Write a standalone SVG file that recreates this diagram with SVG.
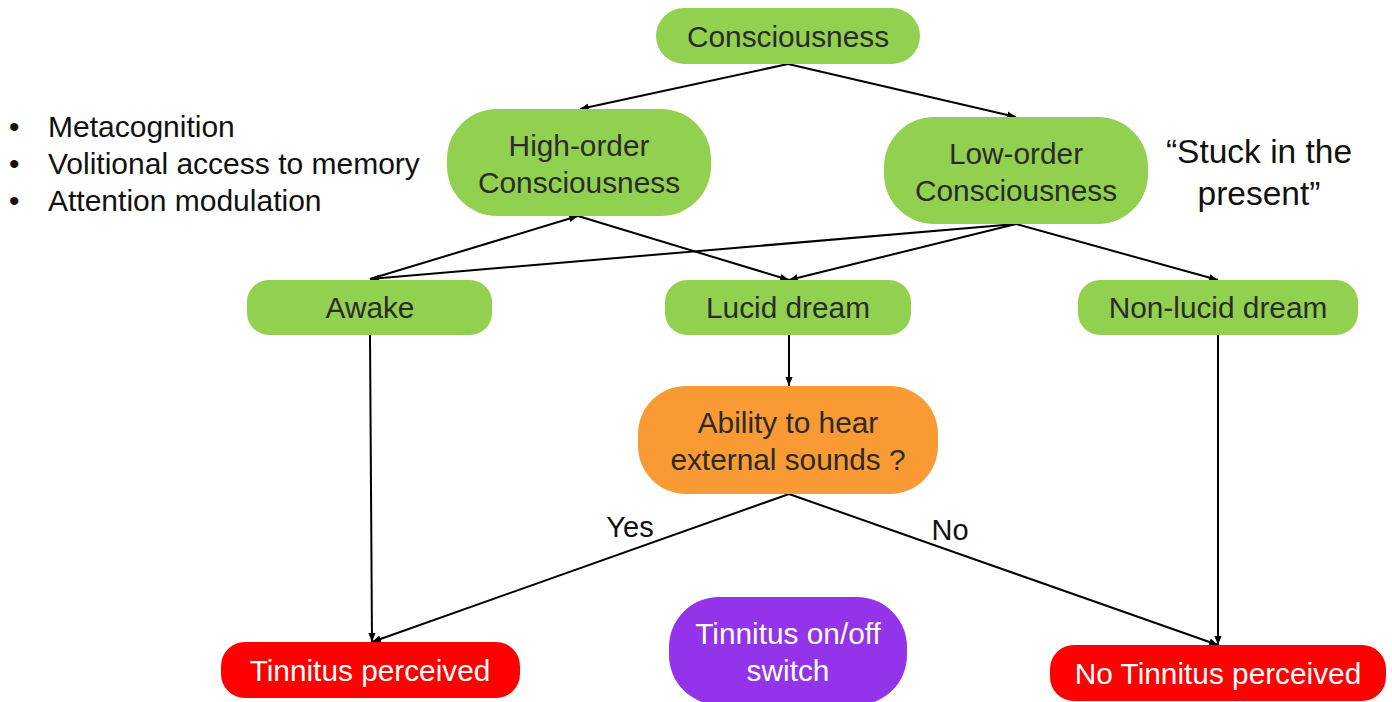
<svg xmlns="http://www.w3.org/2000/svg" width="1392" height="702" viewBox="0 0 1392 702">
<defs>
<marker id="ah" viewBox="0 0 10 10" refX="10" refY="5" markerWidth="9" markerHeight="9" markerUnits="userSpaceOnUse" orient="auto">
<path d="M0,1 L10,5 L0,9 z" fill="#000"/>
</marker>
<style>
.g{fill:#92D050}
.o{fill:#F99A34}
.r{fill:#FF0000}
.p{fill:#9333EA}
.t{font-family:"Liberation Sans",Arial,sans-serif;font-size:29.8px;fill:#2b2b2b;text-anchor:middle}
.w{font-family:"Liberation Sans",Arial,sans-serif;font-size:29.8px;fill:#ffffff;text-anchor:middle}
.k{font-family:"Liberation Sans",Arial,sans-serif;fill:#111;}
.c{stroke:#000;stroke-width:2;fill:none;marker-end:url(#ah)}
</style>
</defs>
<rect width="1392" height="702" fill="#fff"/>

<g id="connectors">
<line class="c" x1="788" y1="64" x2="580" y2="109"/>
<line class="c" x1="788" y1="64" x2="1016" y2="117"/>
<line class="c" x1="370" y1="279" x2="578" y2="216"/>
<line class="c" x1="1016" y1="224" x2="370" y2="279"/>
<line class="c" x1="578" y1="216" x2="789" y2="280"/>
<line class="c" x1="1016" y1="224" x2="789" y2="280"/>
<line class="c" x1="1016" y1="224" x2="1218" y2="280"/>
<line class="c" x1="789" y1="335" x2="789" y2="386"/>
<line class="c" x1="370" y1="335" x2="372" y2="642"/>
<line class="c" x1="1218" y1="335" x2="1218" y2="645"/>
<line class="c" x1="789" y1="494" x2="372" y2="642"/>
<line class="c" x1="789" y1="494" x2="1218" y2="645"/>
<text class="k" x="630" y="537" font-size="29" text-anchor="middle">Yes</text>
<text class="k" x="950" y="540" font-size="29" text-anchor="middle">No</text>
</g>

<g id="n-consciousness">
<rect class="g" x="656" y="8" width="264" height="56" rx="28"/>
<text class="t" x="788" y="47">Consciousness</text>
</g>
<g id="n-high">
<rect class="g" x="447" y="109" width="264" height="107" rx="50"/>
<text class="t" x="579" y="156">High-order</text>
<text class="t" x="579" y="193">Consciousness</text>
</g>
<g id="n-low">
<rect class="g" x="884" y="117" width="264" height="107" rx="50"/>
<text class="t" x="1016" y="164">Low-order</text>
<text class="t" x="1016" y="201">Consciousness</text>
</g>
<g id="n-awake">
<rect class="g" x="247" y="280" width="245" height="55" rx="22"/>
<text class="t" x="370" y="318">Awake</text>
</g>
<g id="n-lucid">
<rect class="g" x="665" y="280" width="246" height="55" rx="22"/>
<text class="t" x="788" y="318">Lucid dream</text>
</g>
<g id="n-nonlucid">
<rect class="g" x="1078" y="280" width="280" height="55" rx="22"/>
<text class="t" x="1218" y="318">Non-lucid dream</text>
</g>
<g id="n-ability">
<rect class="o" x="638" y="386" width="300" height="108" rx="48"/>
<text class="t" x="788" y="433">Ability to hear</text>
<text class="t" x="788" y="470">external sounds ?</text>
</g>
<g id="n-perceived">
<rect class="r" x="221" y="642" width="299" height="56" rx="24"/>
<text class="w" x="370" y="681">Tinnitus perceived</text>
</g>
<g id="n-switch">
<rect class="p" x="669" y="597" width="238" height="108" rx="50"/>
<text class="w" x="788" y="644">Tinnitus on/off</text>
<text class="w" x="788" y="681">switch</text>
</g>
<g id="n-noperceived">
<rect class="r" x="1050" y="645" width="336" height="56" rx="24"/>
<text class="w" x="1218" y="684">No Tinnitus perceived</text>
</g>

<g id="bullets" class="k" font-size="30">
<text x="9" y="137">•</text><text x="48" y="137">Metacognition</text>
<text x="9" y="174">•</text><text x="48" y="174">Volitional access to memory</text>
<text x="9" y="211">•</text><text x="48" y="211">Attention modulation</text>
</g>
<g id="quote" class="k" font-size="33.5" text-anchor="middle">
<text x="1259" y="163">“Stuck in the</text>
<text x="1259" y="205">present”</text>
</g>
</svg>
